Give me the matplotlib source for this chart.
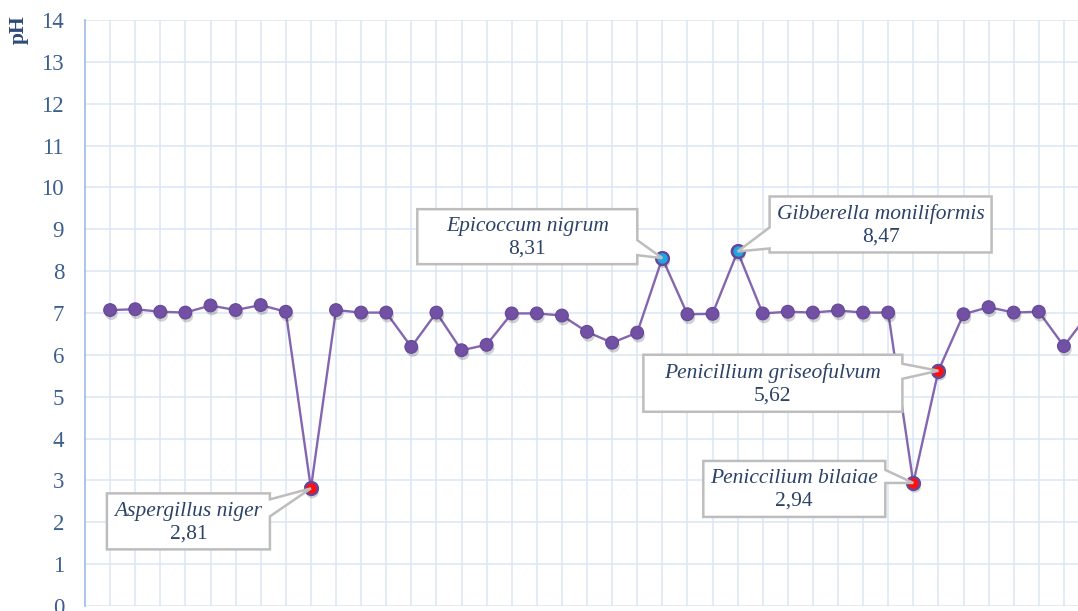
import matplotlib
matplotlib.use("Agg")
import matplotlib.pyplot as plt
import matplotlib.patheffects as pe
import matplotlib.transforms as mtransforms
from matplotlib.patches import Polygon
import numpy as np

# pH values per isolate (last one runs off the right edge)
ph_values = [7.07, 7.09, 7.03, 7.01, 7.18, 7.07, 7.19, 7.03, 2.81, 7.07,
             7.01, 7.01, 6.19, 7.01, 6.11, 6.24, 6.99, 6.99, 6.94, 6.55,
             6.29, 6.53, 8.31, 6.97, 6.98, 8.47, 6.99, 7.03, 7.01, 7.06,
             7.01, 7.01, 2.94, 5.62, 6.97, 7.14, 7.01, 7.03, 6.21, 7.00]
positions = np.arange(1, len(ph_values) + 1)

# highlighted isolates
low_idx = [8, 32, 33]
high_idx = [22, 25]
names = {8: "Aspergillus niger", 22: "Epicoccum nigrum",
         25: "Gibberella moniliformis", 33: "Penicillium griseofulvum",
         32: "Peniccilium bilaiae"}

# callout layout in pixels relative to the point: box (left, top, right, bottom),
# pointer side and pointer base (two offsets along that side); image y goes down
callouts = {
    8: ((-204, 5, -41, 61), "right", (11, 28)),
    22: ((-245, -49, -25, 6), "right", (-18, -3)),
    25: ((32, -55, 254, 1), "left", (-24, -3)),
    33: ((-295, -16, -36, 41), "right", (-7, 8)),
    32: ((-210, -22, -28, 34), "right", (-13, 0)),
}

line_col = "#8466b0"
mark_col = "#7250a3"
edge_col = "#654897"
text_col = "#2c4266"
tick_col = "#3d5f8f"
grid_col = "#dbe6f5"

W, H = 1078, 611
fig = plt.figure(figsize=(W / 100, H / 100), dpi=100)
ax = fig.add_axes([85 / W, 5 / H, 40 * 25.1 / W, 586 / H])

shadow = [pe.SimplePatchShadow(offset=(1, -2.5), shadow_rgbFace="#000000", alpha=0.18),
          pe.Normal()]
ax.plot(positions, ph_values, color=line_col, lw=1.7, zorder=3)
ax.plot(positions, ph_values, "o", ms=9.2, mfc=mark_col, mec=edge_col, mew=0.8,
        zorder=3.5, path_effects=shadow)
ax.plot(positions[low_idx], np.array(ph_values)[low_idx], "o", ms=9.2,
        mfc="#ff1010", mec=edge_col, mew=1.7, zorder=4)
ax.plot(positions[high_idx], np.array(ph_values)[high_idx], "o", ms=9.2,
        mfc="#1fa7e4", mec=edge_col, mew=1.7, zorder=4)

ax.set_xlim(0, 40)
ax.set_ylim(0, 14)
ax.set_yticks(range(0, 15))
ax.set_xticks(positions)
ax.set_xticklabels([])
ax.grid(True, color=grid_col, lw=1.1, zorder=0)
ax.set_axisbelow(True)
for s in ["top", "right", "bottom"]:
    ax.spines[s].set_visible(False)
ax.spines["left"].set_color("#9dbbe3")
ax.spines["left"].set_linewidth(1.2)
ax.tick_params(axis="both", length=0, pad=15)
ax.tick_params(axis="y", labelsize=16.5, labelcolor=tick_col)
for lab in ax.get_yticklabels():
    lab.set_fontfamily("Liberation Serif")

fig.text(19 / W, 1 - 30 / H, "pH", rotation=90, ha="center", va="center",
         fontsize=15.5, fontweight="bold", color="#2e4a78",
         fontfamily="Liberation Serif")

# callout boxes
for idx, (box, side, base) in callouts.items():
    l, t, r, b = box
    b0, b1 = base
    if side == "right":
        verts = [(l, t), (r, t), (r, b0), (0, 0), (r, b1), (r, b), (l, b)]
    else:
        verts = [(l, t), (r, t), (r, b), (l, b), (l, b1), (0, 0), (l, b0)]
    verts = [(vx, -vy) for vx, vy in verts]
    trans = mtransforms.IdentityTransform() + mtransforms.ScaledTranslation(
        positions[idx], ph_values[idx], ax.transData)
    poly = Polygon(verts, closed=True, fc="white", ec="#bdbdbd", lw=1.8,
                   transform=trans, zorder=5, clip_on=False, joinstyle="miter")
    ax.add_patch(poly)
    cx = (l + r) / 2
    ax.text(cx, -(t + (b - t) * 0.32), names[idx], transform=trans,
            ha="center", va="center", fontsize=15.5, style="italic",
            color=text_col, fontfamily="Liberation Serif", zorder=6)
    ax.text(cx, -(t + (b - t) * 0.72), f"{ph_values[idx]:.2f}".replace(".", ","),
            transform=trans, ha="center", va="center", fontsize=15.5,
            color=text_col, fontfamily="Liberation Serif", zorder=6)

fig.savefig("out.png", dpi=100)
